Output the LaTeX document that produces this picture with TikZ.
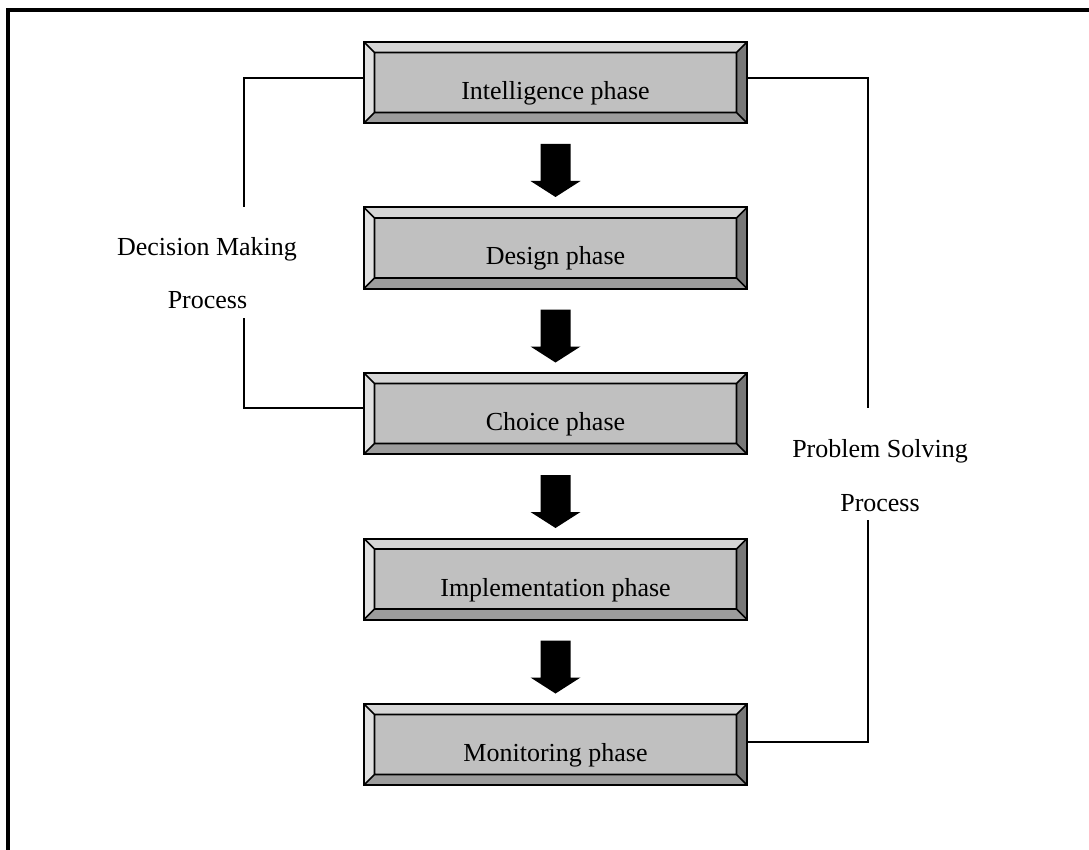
\documentclass[tikz,border=0pt]{standalone}
\usepackage{fontspec}
\setmainfont{Liberation Serif}
\usetikzlibrary{calc}

\definecolor{face}{HTML}{C0C0C0}
\definecolor{bevtop}{HTML}{D6D6D6}
\definecolor{bevleft}{HTML}{E0E0E0}
\definecolor{bevright}{HTML}{777777}
\definecolor{bevbottom}{HTML}{9C9C9C}
\newcommand\phasefont{\fontsize{26}{30}\selectfont}

\tikzset{
  % raised, bevelled phase box
  bevelbox/.style={
    draw=black, line width=2pt, fill=face,
    minimum width=383pt, minimum height=81pt, inner sep=0pt,
    text height=38pt, text depth=4pt, font=\phasefont,
    path picture={
      \path (path picture bounding box.north west) coordinate (pNW)
            (path picture bounding box.north east) coordinate (pNE)
            (path picture bounding box.south east) coordinate (pSE)
            (path picture bounding box.south west) coordinate (pSW);
      \path ($(pNW)+(10.5pt,-10.5pt)$) coordinate (qNW)
            ($(pNE)+(-10.5pt,-10.5pt)$) coordinate (qNE)
            ($(pSE)+(-10.5pt,10.5pt)$) coordinate (qSE)
            ($(pSW)+(10.5pt,10.5pt)$) coordinate (qSW);
      \fill[bevtop]    (pNW) -- (pNE) -- (qNE) -- (qNW) -- cycle;
      \fill[bevleft]   (pNW) -- (qNW) -- (qSW) -- (pSW) -- cycle;
      \fill[bevright]  (pNE) -- (pSE) -- (qSE) -- (qNE) -- cycle;
      \fill[bevbottom] (pSW) -- (qSW) -- (qSE) -- (pSE) -- cycle;
      \draw[line width=1.6pt] (qNW) -- (qNE) -- (qSE) -- (qSW) -- cycle
            (pNW) -- (qNW) (pNE) -- (qNE) (pSE) -- (qSE) (pSW) -- (qSW);
    }
  },
  sidelabel/.style={anchor=base, font=\phasefont, inner sep=0pt},
  bracket/.style={draw=black, line width=1.6pt},
  flowarrow/.style={fill=black}
}

\begin{document}
\begin{tikzpicture}[x=1pt,y=-1pt]
  \useasboundingbox (0,0) rectangle (1089,850);
  \fill[white] (0,0) rectangle (1089,850);

  % outer frame (top and left edges)
  \draw[line width=4pt] (8,852) -- (8,10) -- (1091,10);

  % phases
  \node[bevelbox] (intel)  at (555.5,82.5)  {Intelligence phase};
  \node[bevelbox] (design) at (555.5,248)   {Design phase};
  \node[bevelbox] (choice) at (555.5,413.5) {Choice phase};
  \node[bevelbox] (impl)   at (555.5,579)   {Implementation phase};
  \node[bevelbox] (monit)  at (555.5,744.5) {Monitoring phase};

  % block arrows between consecutive phases
  \foreach \a/\b in {intel/design, design/choice, choice/impl, impl/monit} {
    \fill[flowarrow]
      ($(\a.south)+(-15,20)$) -- ($(\a.south)+(15,20)$)
      -- ($(\b.north)+(15,-25.5)$) -- ($(\b.north)+(25,-25.5)$)
      -- ($(\b.north)+(0,-9.5)$)
      -- ($(\b.north)+(-25,-25.5)$) -- ($(\b.north)+(-15,-25.5)$) -- cycle;
  }

  % decision making bracket
  \node[sidelabel] (dm1) at (207,255) {Decision Making};
  \node[sidelabel] (dm2) at (207.5,308) {Process};
  \coordinate (dmA) at (244,78);
  \coordinate (dmB) at (244,207);
  \coordinate (dmC) at (244,318);
  \coordinate (dmD) at (244,408);
  \draw[bracket] (intel.west |- dmA) -- (dmA) -- (dmB);
  \draw[bracket] (dmC) -- (dmD) -- (choice.west |- dmD);

  % problem solving bracket
  \node[sidelabel] (ps1) at (880,457) {Problem Solving};
  \node[sidelabel] (ps2) at (880,511) {Process};
  \coordinate (psA) at (868,78);
  \coordinate (psB) at (868,408);
  \coordinate (psC) at (868,520);
  \coordinate (psD) at (868,742);
  \draw[bracket] (intel.east |- psA) -- (psA) -- (psB);
  \draw[bracket] (psC) -- (psD) -- (monit.east |- psD);
\end{tikzpicture}
\end{document}
